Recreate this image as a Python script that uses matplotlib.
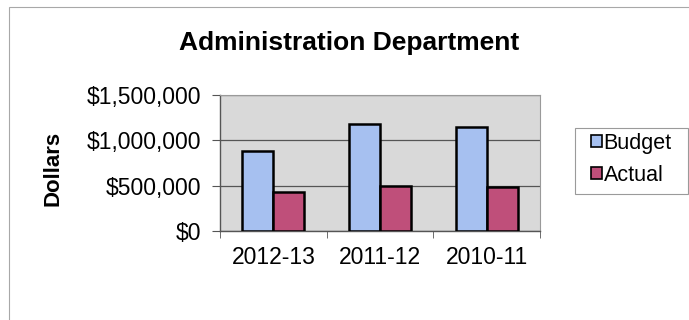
import numpy as np
import matplotlib.pyplot as plt
from matplotlib.patches import Rectangle
from matplotlib.ticker import FuncFormatter

# budget vs actual by fiscal year
years = ['2012-13', '2011-12', '2010-11']
budget = [885000, 1177000, 1147000]
actual = [427000, 493000, 482000]

plt.rcParams['font.family'] = ['Liberation Sans', 'DejaVu Sans']

W, H = 689, 320
fig = plt.figure(figsize=(W / 100, H / 100), dpi=100)
fig.patch.set_facecolor('white')

def box(x0, y0, x1, y1):
    # pixel box (top-left origin) -> figure fraction rect
    return (x0 / W, 1 - y1 / H, (x1 - x0) / W, (y1 - y0) / H)

# outer chart border
fig.patches.append(Rectangle(box(9, 7, 700, 340)[:2], *box(9, 7, 700, 340)[2:],
                             transform=fig.transFigure, fill=False,
                             edgecolor='#a8a8a8', linewidth=0.8))

ax = fig.add_axes(box(220, 95, 540, 231))
ax.set_facecolor('#d9d9d9')

x = np.arange(len(years))
w = 0.29
ax.bar(x - w / 2, budget, w, color='#a6c0f0', edgecolor='black', linewidth=1.8,
       label='Budget', zorder=3)
ax.bar(x + w / 2, actual, w, color='#bf4f7a', edgecolor='black', linewidth=1.8,
       label='Actual', zorder=3)

ax.set_xlim(-0.5, 2.5)
ax.set_ylim(0, 1500000)
ax.set_yticks([0, 500000, 1000000, 1500000])
ax.yaxis.set_major_formatter(FuncFormatter(lambda v, p: '${:,.0f}'.format(v)))
ax.set_xticks(x)
ax.set_xticklabels(years)
ax.set_xticks([-0.5, 0.5, 1.5, 2.5], minor=True)
ax.tick_params(axis='x', which='major', length=0, pad=10.5, labelsize=16.5)
ax.tick_params(axis='x', which='minor', length=5, color='#555555', direction='out')
ax.tick_params(axis='y', length=6, color='#555555', pad=7.5, labelsize=16.5)
ax.yaxis.grid(True, color='#555555', linewidth=0.9, zorder=1)
for s in ['top', 'right']:
    ax.spines[s].set_color('#9a9a9a')
    ax.spines[s].set_linewidth(0.8)
for s in ['left', 'bottom']:
    ax.spines[s].set_color('#555555')
    ax.spines[s].set_linewidth(1.0)

ax.set_ylabel('Dollars', fontsize=16, fontweight='bold')
ax.yaxis.set_label_coords((63 - 220) / 320, 0.463)
fig.text(349 / W, 1 - 50 / H, 'Administration Department', ha='center',
         va='baseline', fontsize=19, fontweight='bold')

# legend with its own frame
fig.patches.append(Rectangle(box(575, 128, 688, 194)[:2], *box(575, 128, 688, 194)[2:],
                             transform=fig.transFigure, fill=False,
                             edgecolor='#9a9a9a', linewidth=0.8))
leg = fig.legend(loc='upper left', bbox_to_anchor=(591 / W, 1 - 133 / H),
                 fontsize=15.5, frameon=False, handlelength=0.5,
                 handleheight=0.5, handletextpad=0.08, borderpad=0,
                 labelspacing=0.5, borderaxespad=0)
for h in leg.legend_handles:
    h.set_linewidth(1.2)

fig.savefig('out.png', dpi=100)
